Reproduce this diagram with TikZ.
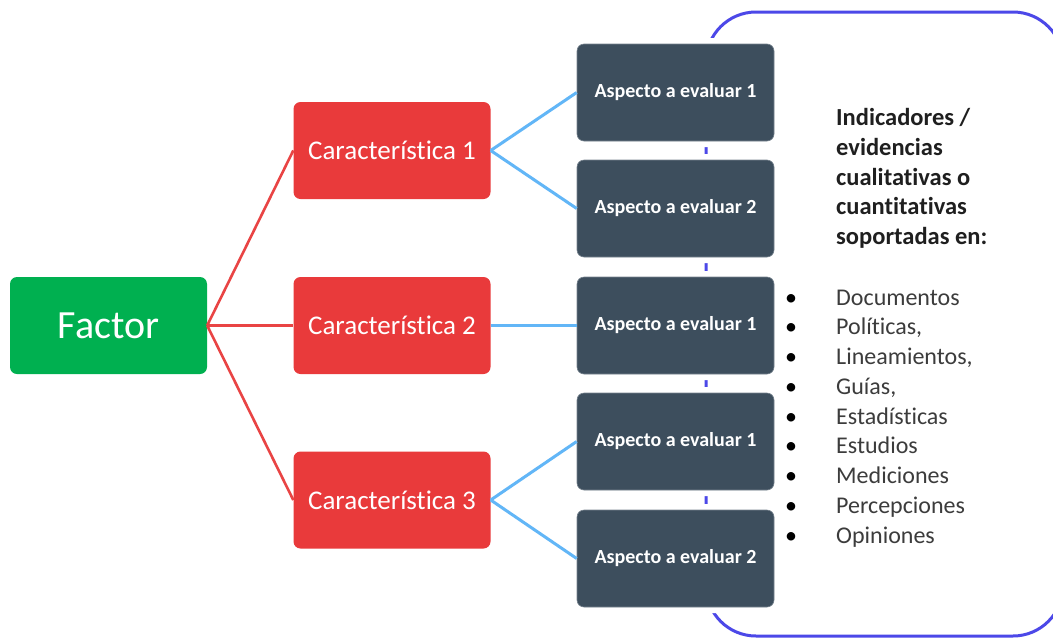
\documentclass[tikz,border=0pt]{standalone}
\usepackage{fontspec}
\setmainfont[RawFeature={-liga;-clig;-dlig;-calt;-rlig}]{Carlito}
\definecolor{factorgreen}{RGB}{0,176,80}
\definecolor{charred}{RGB}{233,58,59}
\definecolor{aspectslate}{RGB}{61,78,93}
\definecolor{redlink}{RGB}{233,68,68}
\definecolor{bluelink}{RGB}{98,182,247}
\definecolor{framevio}{RGB}{76,72,232}
\definecolor{listgray}{RGB}{60,60,60}
% "ti" kept as two separate letters
\newcommand{\tiSep}{t\kern0pt i}
\begin{document}
\begin{tikzpicture}[x=1pt,y=-1pt,
  basebox/.style={rounded corners=7pt, minimum width=197pt, minimum height=97pt,
    inner sep=0pt, text=white},
  factorbox/.style={basebox, fill=factorgreen, font=\fontsize{40}{44}\selectfont},
  charbox/.style={basebox, fill=charred, font=\fontsize{27}{30}\selectfont},
  aspectbox/.style={basebox, fill=aspectslate, draw=aspectslate!70!white, line width=0.6pt,
    preaction={draw=white, line width=12pt},
    font=\fontsize{20}{22}\selectfont\bfseries},
  redline/.style={draw=redlink, line width=2.6pt},
  blueline/.style={draw=bluelink, line width=3pt},
  framebox/.style={draw=framevio, line width=3pt, rounded corners=50pt},
  headtext/.style={anchor=base west, inner sep=0pt, font=\fontsize{24.5}{30}\selectfont\bfseries, text=black!88},
  listtext/.style={anchor=base west, inner sep=0pt, font=\fontsize{24}{30}\selectfont, text=listgray},
  bullettext/.style={anchor=base, inner sep=0pt, font=\fontsize{24}{30}\selectfont, text=black}]
\useasboundingbox (0,0) rectangle (1053,638);
\clip (0,0) rectangle (1053,638);
\fill[white] (0,0) rectangle (1053,638);

% enclosing frame for the evidence list
\path[framebox] (706,12) rectangle (1063,636);

% factor and characteristics
\node[factorbox] (F) at (108.5,325.5) {Factor};
\node[charbox] (C1) at (392,150.5) {Caracterís\tiSep ca 1};
\node[charbox] (C2) at (392,325.5) {Caracterís\tiSep ca 2};
\node[charbox] (C3) at (392,500) {Caracterís\tiSep ca 3};

% aspects to evaluate
\node[aspectbox] (A1) at (675.5,92.5) {Aspecto a evaluar 1};
\node[aspectbox] (A2) at (675.5,208.5) {Aspecto a evaluar 2};
\node[aspectbox] (A3) at (675.5,325.5) {Aspecto a evaluar 1};
\node[aspectbox] (A4) at (675.5,441.5) {Aspecto a evaluar 1};
\node[aspectbox] (A5) at (675.5,558.5) {Aspecto a evaluar 2};

% connectors
\draw[redline] (F.east) -- (C1.west);
\draw[redline] (F.east) -- (C2.west);
\draw[redline] (F.east) -- (C3.west);
\draw[blueline] (C1.east) -- (A1.west);
\draw[blueline] (C1.east) -- (A2.west);
\draw[blueline] (C2.east) -- (A3.west);
\draw[blueline] (C3.east) -- (A4.west);
\draw[blueline] (C3.east) -- (A5.west);

% heading of the evidence list
\foreach \t [count=\i from 0] in {Indicadores /, evidencias, cualita\tiSep vas o, cuan\tiSep tativas, soportadas en:}
  \node[headtext] (h\i) at (836,125.7+29.75*\i) {\t};

% evidence items
\foreach \t [count=\i from 0] in {Documentos, {Polí\tiSep cas,}, {Lineamientos,}, {Guías,}, {Estadís\tiSep cas}, Estudios, Mediciones, Percepciones, Opiniones}{
  \node[bullettext] (b\i) at (791,305+29.75*\i) {•};
  \node[listtext] (l\i) at (836,305+29.75*\i) {\t};
}
\end{tikzpicture}
\end{document}
